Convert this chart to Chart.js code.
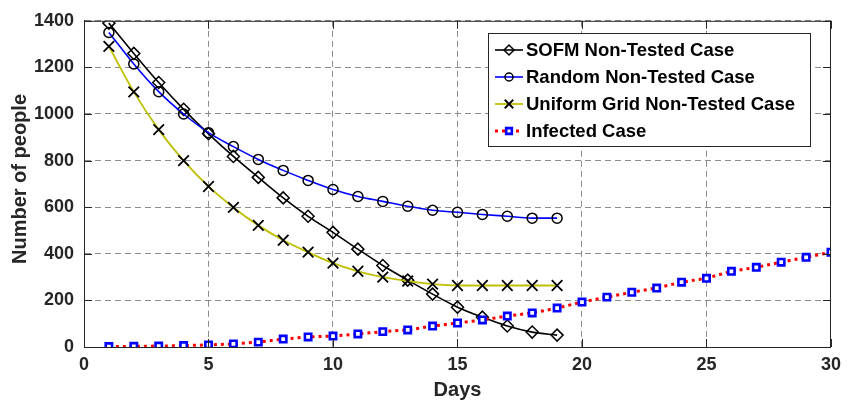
<!DOCTYPE html>
<html>
<head>
<meta charset="utf-8">
<script src="https://cdn.jsdelivr.net/npm/chart.js@4/dist/chart.umd.min.js"></script>
<style>
  html, body { margin: 0; padding: 0; background: #fff; }
  #wrap { width: 848px; height: 404px; }
</style>
</head>
<body>
<div id="wrap"><canvas id="myChart" width="848" height="404"></canvas></div>
<script>
// DATA
const days19 = [1,2,3,4,5,6,7,8,9,10,11,12,13,14,15,16,17,18,19];
const days30 = [1,2,3,4,5,6,7,8,9,10,11,12,13,14,15,16,17,18,19,20,21,22,23,24,25,26,27,28,29,30];
const sofmValues    = [1390,1260,1135,1020,915,818,728,640,561,492,420,350,287,227,171,128,90,64,51];
const randomValues  = [1350,1215,1096,1000,920,860,805,758,715,676,646,625,604,587,578,569,561,553,553];
const uniformValues = [1290,1095,933,800,689,599,522,458,407,360,325,300,283,270,264,264,264,264,264];
const infectedValues= [2,3,4,6,9,13,21,34,43,47,56,66,73,90,103,116,133,146,167,193,214,235,253,278,295,325,342,364,385,407];
const xTicks = [0,5,10,15,20,25,30];
const yTicks = [0,200,400,600,800,1000,1200,1400];
const xLabel = 'Days';
const yLabel = 'Number of people';

const FONT = "'Liberation Sans', Arial, sans-serif";

const toPoints= function(xs, ys){
    return xs.map((x, i) => ({x: x, y: ys[i]}));
};

// draws the box frame + inward ticks like the original figure
const framePlugin = {
    id: 'frame',
    afterDatasetsDraw(chart){
        const ctx = chart.ctx;
        const a = chart.chartArea;
        const xs = chart.scales.x, ys = chart.scales.y;
        ctx.save();
        ctx.strokeStyle = '#262626';
        ctx.lineWidth = 1;
        ctx.setLineDash([]);
        ctx.strokeRect(a.left + 0.5, a.top + 0.5, a.right - a.left - 1, a.bottom - a.top);
        const len = 8;
        ctx.beginPath();
        xTicks.forEach(v => {
            const px = Math.round(xs.getPixelForValue(v)) + 0.5;
            ctx.moveTo(px, a.bottom); ctx.lineTo(px, a.bottom - len);
            ctx.moveTo(px, a.top); ctx.lineTo(px, a.top + len);
        });
        yTicks.forEach(v => {
            const py = Math.round(ys.getPixelForValue(v)) + 0.5;
            ctx.moveTo(a.left, py); ctx.lineTo(a.left + len, py);
            ctx.moveTo(a.right, py); ctx.lineTo(a.right - len, py);
        });
        ctx.stroke();

        // y axis title (drawn by hand so it sits where the original has it)
        ctx.fillStyle = '#262626';
        ctx.font = 'bold 20px ' + FONT;
        ctx.textAlign = 'center';
        ctx.textBaseline = 'middle';
        ctx.translate(20, 179);
        ctx.rotate(-Math.PI / 2);
        ctx.fillText(yLabel, 0, 0);
        ctx.restore();
    }
};

// legend box inside the plot, top right
const legendPlugin = {
    id: 'boxLegend',
    afterDraw(chart){
        const ctx = chart.ctx;
        const x0 = 488, y0 = 33, w = 322, h = 113;
        ctx.save();
        ctx.fillStyle = '#fff';
        ctx.fillRect(x0, y0, w, h);
        ctx.strokeStyle = '#262626';
        ctx.lineWidth = 1;
        ctx.strokeRect(x0 + 0.5, y0 + 0.5, w, h);
        chart.data.datasets.forEach((ds, i) => {
            const cy = y0 + 17 + i * 27;
            ctx.beginPath();
            ctx.setLineDash(ds.borderDash || []);
            ctx.strokeStyle = ds.borderColor;
            ctx.lineWidth = ds.borderWidth;
            ctx.moveTo(x0 + 7, cy); ctx.lineTo(x0 + 35, cy);
            ctx.stroke();
            ctx.setLineDash([]);
            ctx.strokeStyle = ds.pointBorderColor;
            ctx.fillStyle = ds.pointBackgroundColor;
            ctx.lineWidth = ds.pointBorderWidth;
            Chart.helpers.drawPoint(ctx, {pointStyle: ds.pointStyle, radius: ds.legendRadius, rotation: 0, borderWidth: ds.pointBorderWidth}, x0 + 21, cy);
            ctx.fillStyle = '#000';
            ctx.font = 'bold 18.5px ' + FONT;
            ctx.textBaseline = 'middle';
            ctx.fillText(ds.label, x0 + 38, cy + 1);
        });
        ctx.restore();
    }
};

new Chart(document.getElementById('myChart'), {
    type: 'line',
    data: {
        datasets: [
            {
                label: 'SOFM Non-Tested Case',
                data: toPoints(days19, sofmValues),
                borderColor: '#000000', borderWidth: 1.6,
                pointStyle: 'rectRot', pointRadius: 6, legendRadius: 5,
                pointBorderColor: '#000', pointBackgroundColor: 'rgba(0,0,0,0)', pointBorderWidth: 1.5,
                cubicInterpolationMode: 'monotone', order: 4
            },
            {
                label: 'Random Non-Tested Case',
                data: toPoints(days19, randomValues),
                borderColor: '#0000ff', borderWidth: 1.6,
                pointStyle: 'circle', pointRadius: 5, legendRadius: 4,
                pointBorderColor: '#000', pointBackgroundColor: 'rgba(0,0,0,0)', pointBorderWidth: 1.5,
                cubicInterpolationMode: 'monotone', order: 3
            },
            {
                label: 'Uniform Grid Non-Tested Case',
                data: toPoints(days19, uniformValues),
                borderColor: '#bfbf00', borderWidth: 1.8,
                pointStyle: 'crossRot', pointRadius: 7.5, legendRadius: 6,
                pointBorderColor: '#000', pointBackgroundColor: 'rgba(0,0,0,0)', pointBorderWidth: 1.8,
                cubicInterpolationMode: 'monotone', order: 2
            },
            {
                label: 'Infected Case',
                data: toPoints(days30, infectedValues),
                borderColor: '#ff0000', borderWidth: 3, borderDash: [3, 4],
                pointStyle: 'rect', pointRadius: 4.5, legendRadius: 4,
                pointBorderColor: '#0000ff', pointBackgroundColor: '#ffffff', pointBorderWidth: 2.6,
                order: 1
            }
        ]
    },
    plugins: [framePlugin, legendPlugin],
    options: {
        responsive: false,
        animation: false,
        layout: { padding: { top: 20, right: 10, left: 0, bottom: 0 } },
        plugins: { legend: { display: false }, tooltip: { enabled: false } },
        scales: {
            x: {
                type: 'linear', min: 0, max: 30,
                afterFit: (s) => { s.height = 57; },
                afterBuildTicks: (s) => { s.ticks = xTicks.map(v => ({value: v})); },
                grid: { color: '#8c8c8c', lineWidth: 1, drawTicks: false },
                border: { display: true, color: '#262626', dash: [6, 4] },
                ticks: { color: '#262626', font: { family: FONT, size: 18, weight: 'bold' }, padding: 7, maxRotation: 0, callback: (v) => String(v) },
                title: { display: true, text: xLabel, color: '#262626', font: { family: FONT, size: 20, weight: 'bold' }, padding: { top: 2, bottom: 2 } }
            },
            y: {
                min: 0, max: 1400,
                afterFit: (s) => { s.width = 84; },
                afterBuildTicks: (s) => { s.ticks = yTicks.map(v => ({value: v})); },
                grid: { color: '#8c8c8c', lineWidth: 1, drawTicks: false },
                border: { display: true, color: '#262626', dash: [6, 4] },
                ticks: { color: '#262626', font: { family: FONT, size: 18, weight: 'bold' }, padding: 10, callback: (v) => String(v) }
            }
        }
    }
});
</script>
</body>
</html>
